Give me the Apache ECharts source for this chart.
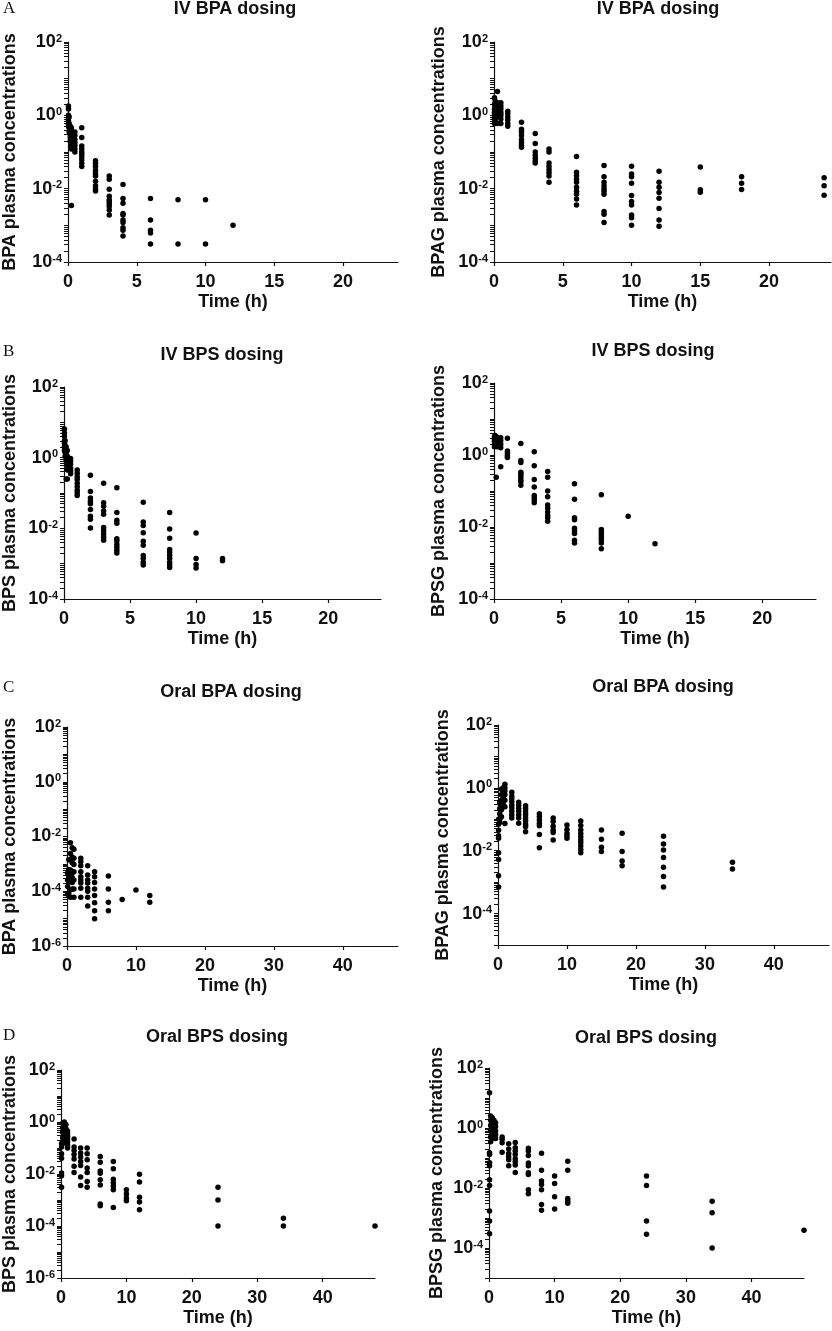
<!DOCTYPE html>
<html lang="en">
<head>
    <meta charset="UTF-8">
    <title>Plasma concentrations</title>
    <script src="https://cdn.jsdelivr.net/npm/echarts@6/dist/echarts.min.js"></script>
    <style>
        html, body { margin: 0; padding: 0; background: #fff; }
        #main { width: 832px; height: 1331px; }
    </style>
</head>
<body>
<div id="main"></div>
<script>
    // A: IV BPA dosing -> BPA
    var ivBpaTimes = [0.033, 0.083, 0.167, 0.25, 0.5, 1, 2, 3, 4, 6, 8, 10, 12];
    var ivBpaBpa = [
        [1.8, 1.5, 1.0, 0.85, 0.7, 0.6, 0.5],
        [0.9, 0.6, 0.5, 0.45, 0.35],
        [0.5, 0.4, 0.3, 0.25, 0.2],
        [0.45, 0.35, 0.25, 0.2, 0.15, 0.12, 0.0035],
        [0.35, 0.28, 0.22, 0.18, 0.15, 0.12, 0.1],
        [0.46, 0.25, 0.145, 0.12, 0.1, 0.088, 0.074, 0.061, 0.049, 0.04],
        [0.058, 0.049, 0.04, 0.032, 0.026, 0.022, 0.016, 0.012, 0.0098, 0.0086],
        [0.022, 0.018, 0.0096, 0.0062, 0.005, 0.0045, 0.0038, 0.0033, 0.0026, 0.0019],
        [0.013, 0.0054, 0.004, 0.0021, 0.0019, 0.0014, 0.0012, 0.00086, 0.00073, 0.00051],
        [0.0054, 0.0014, 0.00073, 0.00062, 0.00031],
        [0.005, 0.00031],
        [0.005, 0.00031],
        [0.001]
    ];
    // A: IV BPA dosing -> BPAG
    var ivBpagTimes = [0.033, 0.083, 0.25, 0.5, 1, 2, 3, 4, 6, 8, 10, 12, 15, 18, 24];
    var ivBpaBpag = [
        [3.0, 2.0, 1.5, 1.2, 1.0, 0.8, 0.6],
        [2.5, 1.8, 1.3, 1.0, 0.7],
        [4.5, 2.2, 1.6, 1.2, 0.9, 0.6],
        [2.2, 1.8, 1.5, 1.2, 1.0, 0.8, 0.6],
        [1.3, 1.1, 0.9, 0.75, 0.6, 0.5],
        [0.65, 0.42, 0.35, 0.28, 0.22, 0.18, 0.15, 0.135],
        [0.32, 0.17, 0.1, 0.08, 0.068, 0.057, 0.05],
        [0.12, 0.1, 0.05, 0.04, 0.033, 0.027, 0.022, 0.015],
        [0.075, 0.028, 0.023, 0.018, 0.015, 0.011, 0.0085, 0.007, 0.0052, 0.0036],
        [0.043, 0.021, 0.015, 0.012, 0.01, 0.0085, 0.007, 0.0024, 0.002, 0.0012],
        [0.041, 0.025, 0.021, 0.014, 0.0065, 0.0045, 0.0036, 0.0019, 0.0016, 0.001],
        [0.03, 0.015, 0.011, 0.0078, 0.0055, 0.0029, 0.0014, 0.00095],
        [0.039, 0.0093, 0.008],
        [0.021, 0.014, 0.0095],
        [0.02, 0.012, 0.0066]
    ];
    // B: IV BPS dosing -> BPS
    var ivBpsTimes = [0.033, 0.083, 0.167, 0.25, 0.5, 1, 2, 3, 4, 6, 8, 10, 12];
    var ivBpsBps = [
        [6.5, 5, 4, 3, 2.5, 2, 1.6],
        [3, 2.2, 1.8, 1.4, 1.1],
        [2, 1.5, 1.2, 1.0, 0.8, 0.25],
        [1.6, 1.1, 0.8, 0.6, 0.45, 0.25],
        [0.95, 0.8, 0.65, 0.5, 0.42, 0.35],
        [0.45, 0.36, 0.29, 0.24, 0.19, 0.15, 0.12, 0.1, 0.085],
        [0.32, 0.11, 0.072, 0.058, 0.05, 0.034, 0.022, 0.018, 0.0103],
        [0.19, 0.053, 0.042, 0.031, 0.025, 0.0105, 0.0085, 0.0069, 0.0056, 0.0046],
        [0.14, 0.028, 0.017, 0.014, 0.0051, 0.0044, 0.0035, 0.0029, 0.0024, 0.002],
        [0.055, 0.015, 0.012, 0.0075, 0.0043, 0.0033, 0.0017, 0.0014, 0.0011, 0.00092],
        [0.028, 0.0095, 0.0052, 0.0025, 0.0021, 0.0017, 0.0014, 0.0011, 0.00092, 0.00078],
        [0.0074, 0.0014, 0.00094, 0.00076],
        [0.0014, 0.0012]
    ];
    // B: IV BPS dosing -> BPSG
    var ivBpsgTimes = [0.033, 0.083, 0.167, 0.25, 0.5, 1, 2, 3, 4, 6, 8, 10, 12];
    var ivBpsBpsg = [
        [3.2, 2.8, 2.4, 2.0, 1.7],
        [3.5, 3.0, 2.5, 2.2, 1.9],
        [3.2, 2.7, 2.2, 1.8, 0.24],
        [3.0, 2.6, 2.1, 1.7],
        [3.0, 2.5, 2.0, 1.6, 0.47],
        [2.9, 1.3, 1.1, 0.95, 0.85],
        [2.1, 0.7, 0.62, 0.33, 0.29, 0.25, 0.21, 0.18, 0.145],
        [1.23, 0.5, 0.21, 0.13, 0.075, 0.065, 0.056, 0.047],
        [0.35, 0.24, 0.1, 0.069, 0.041, 0.033, 0.026, 0.021, 0.018, 0.0145],
        [0.16, 0.059, 0.018, 0.016, 0.0093, 0.0078, 0.0066, 0.0043, 0.0036],
        [0.079, 0.0085, 0.0072, 0.0061, 0.0052, 0.0044, 0.0036, 0.0025],
        [0.02],
        [0.0034]
    ];
    // C: oral BPA dosing -> BPA
    var oralBpaTimes = [0.083, 0.25, 0.5, 0.75, 1, 2, 3, 4, 6, 8, 10, 12];
    var oralBpaBpa = [
        [4.5e-4, 2.6e-4, 1.5e-4, 7.7e-5],
        [1.4e-3, 6.2e-4, 3.4e-4, 2.2e-4, 8e-5],
        [5.9e-3, 2.4e-3, 1.4e-3, 6e-4, 2.6e-4, 1.1e-4, 6e-5],
        [3.9e-3, 1.8e-3, 1.1e-3, 4.6e-4, 3.2e-4, 2.1e-4, 1.2e-4],
        [3.4e-3, 1.6e-3, 9.4e-4, 5.2e-4, 2.6e-4, 1.2e-4, 6e-5],
        [1.6e-3, 1.2e-3, 8.6e-4, 5.2e-4, 3.4e-4, 2.6e-4, 2e-4, 1.3e-4, 6e-5],
        [8.6e-4, 3.9e-4, 2.6e-4, 2e-4, 1.3e-4, 1e-4, 6e-5, 2.9e-5],
        [5.2e-4, 3.4e-4, 2.1e-4, 1.2e-4, 7e-5, 3.8e-5, 1.95e-5, 1e-5],
        [3.6e-4, 1.2e-4, 4e-5, 1.95e-5],
        [5e-5],
        [1.1e-4],
        [7e-5, 4e-5]
    ];
    // C: oral BPA dosing -> BPAG
    var oralBpagTimes = [0.083, 0.25, 0.5, 0.75, 1, 2, 3, 4, 6, 8, 10, 12, 15, 18, 24, 34];
    var oralBpaBpag = [
        [0.1, 0.07, 0.045, 0.03, 0.025, 0.0086, 0.0053, 0.0016, 0.0007],
        [0.35, 0.22, 0.15, 0.1, 0.08],
        [0.9, 0.6, 0.4, 0.3, 0.2, 0.12],
        [1.0, 0.75, 0.5, 0.35, 0.25],
        [1.3, 1.0, 0.8, 0.6, 0.4, 0.25, 0.074],
        [0.72, 0.55, 0.45, 0.36, 0.28, 0.23, 0.18, 0.14, 0.11],
        [0.35, 0.28, 0.22, 0.18, 0.14, 0.11, 0.075],
        [0.27, 0.22, 0.17, 0.14, 0.11, 0.09, 0.07, 0.058, 0.04],
        [0.15, 0.12, 0.095, 0.075, 0.062, 0.033, 0.0125],
        [0.11, 0.085, 0.06, 0.046, 0.038, 0.022],
        [0.066, 0.047, 0.036, 0.03, 0.025],
        [0.088, 0.063, 0.046, 0.035, 0.028, 0.022, 0.018, 0.014, 0.011, 0.0086],
        [0.046, 0.023, 0.0128, 0.0095],
        [0.036, 0.0095, 0.0047, 0.0033],
        [0.029, 0.0163, 0.0106, 0.0061, 0.003, 0.0015, 0.0007],
        [0.0043, 0.0026]
    ];
    // D: oral BPS dosing -> BPS
    var oralBpsTimes = [0.083, 0.25, 0.5, 0.75, 1, 2, 3, 4, 6, 8, 10, 12, 24, 34, 48];
    var oralBpsBps = [
        [0.15, 0.11, 0.06, 0.04, 0.011, 0.0085, 0.0031],
        [0.9, 0.6, 0.4, 0.25, 0.15],
        [1.0, 0.7, 0.5, 0.35, 0.25, 0.18],
        [0.8, 0.55, 0.4, 0.3, 0.2],
        [0.45, 0.35, 0.28, 0.22, 0.17, 0.13, 0.1],
        [0.22, 0.11, 0.08, 0.056, 0.038, 0.02, 0.0115],
        [0.1, 0.064, 0.045, 0.03, 0.021, 0.0076, 0.0036],
        [0.1, 0.06, 0.035, 0.017, 0.0115, 0.0052, 0.0031],
        [0.047, 0.028, 0.013, 0.0107, 0.006, 0.0038, 0.0007, 0.0006],
        [0.03, 0.016, 0.0063, 0.0045, 0.0034, 0.0025, 0.00051],
        [0.0025, 0.0017, 0.0012, 0.00093],
        [0.0098, 0.0049, 0.00127, 0.00083, 0.00042],
        [0.0031, 0.001, 0.0001],
        [0.0002, 0.0001],
        [0.0001]
    ];
    // D: oral BPS dosing -> BPSG
    var oralBpsgTimes = [0.083, 0.25, 0.5, 0.75, 1, 2, 3, 4, 6, 8, 10, 12, 24, 34, 48];
    var oralBpsBpsg = [
        [15, 0.15, 0.13, 0.07, 0.055, 0.019, 0.012, 0.0017, 0.0008, 0.0003],
        [2.5, 1.8, 1.2, 0.8, 0.5, 0.35],
        [2.2, 1.6, 1.1, 0.7, 0.45],
        [1.8, 1.3, 0.9, 0.6],
        [1.5, 1.1, 0.8, 0.6, 0.45],
        [0.5, 0.42, 0.32, 0.155],
        [0.3, 0.2, 0.14, 0.11, 0.088, 0.055],
        [0.33, 0.22, 0.17, 0.13, 0.095, 0.075, 0.058, 0.033],
        [0.21, 0.17, 0.12, 0.068, 0.055, 0.032, 0.028, 0.0088, 0.0064],
        [0.145, 0.039, 0.017, 0.013, 0.0088, 0.0028, 0.0018],
        [0.025, 0.014, 0.0051, 0.002],
        [0.078, 0.039, 0.0045, 0.0037, 0.0031],
        [0.025, 0.012, 0.0008, 0.00029],
        [0.0036, 0.0015, 0.0001],
        [0.00039]
    ];

    var titles = ['IV BPA dosing', 'IV BPA dosing', 'IV BPS dosing', 'IV BPS dosing',
                  'Oral BPA dosing', 'Oral BPA dosing', 'Oral BPS dosing', 'Oral BPS dosing'];
    var yNames = ['BPA plasma concentrations', 'BPAG plasma concentrations',
                  'BPS plasma concentrations', 'BPSG plasma concentrations',
                  'BPA plasma concentrations', 'BPAG plasma concentrations',
                  'BPS plasma concentrations', 'BPSG plasma concentrations'];

    var panels = [
        {t: ivBpaTimes,    c: ivBpaBpa,    left: 67,  top: 42,   w: 331, h: 220, xMax: 24,   xStep: 5,  yMin: 1e-4},
        {t: ivBpagTimes,   c: ivBpaBpag,   left: 494, top: 42,   w: 337, h: 220, xMax: 24.5, xStep: 5,  yMin: 1e-4},
        {t: ivBpsTimes,    c: ivBpsBps,    left: 63,  top: 387,  w: 318, h: 212, xMax: 24,   xStep: 5,  yMin: 1e-4},
        {t: ivBpsgTimes,   c: ivBpsBpsg,   left: 494, top: 383,  w: 322, h: 216, xMax: 24,   xStep: 5,  yMin: 1e-4},
        {t: oralBpaTimes,  c: oralBpaBpa,  left: 67,  top: 727,  w: 331, h: 219, xMax: 48,   xStep: 10, yMin: 1e-6},
        {t: oralBpagTimes, c: oralBpaBpag, left: 498, top: 725,  w: 331, h: 220, xMax: 48,   xStep: 10, yMin: 1e-5},
        {t: oralBpsTimes,  c: oralBpsBps,  left: 60,  top: 1070, w: 315, h: 208, xMax: 48,   xStep: 10, yMin: 1e-6},
        {t: oralBpsgTimes, c: oralBpsBpsg, left: 489, top: 1068, w: 315, h: 210, xMax: 48,   xStep: 10, yMin: 1e-5}
    ];
    var yNameGap = [49, 46, 45, 46, 48, 46, 42, 43];
    var titlePos = [[235, 9], [658, 9], [222, 355], [653, 351], [231, 692], [663, 687], [217, 1037], [646, 1038]];
    var letters = [['A', 9], ['B', 352], ['C', 688], ['D', 1036]];

    var ink = '#111';
    var font = '"Liberation Sans", Arial, sans-serif';

    function logTicks(min, max) {
        var out = [];
        for (var e = Math.round(Math.log10(min)); e < 2; e++) {
            for (var k = 1; k < 10; k++) out.push(+(k * Math.pow(10, e)).toPrecision(3));
        }
        out.push(100);
        return out.filter(function (v) { return v >= min * 0.999 && v <= max * 1.001; });
    }
    function decadeLabels(min) {
        var out = [];
        for (var e = 2; Math.pow(10, e) >= min * 0.999; e -= 2) out.push(Math.pow(10, e));
        return out;
    }
    function linTicks(max, step) {
        var out = [];
        for (var v = 0; v <= max; v += step) out.push(v);
        return out;
    }

    var grid = [], xAxis = [], yAxis = [], series = [], graphic = [];

    panels.forEach(function (p, i) {
        grid.push({left: p.left, top: p.top, width: p.w, height: p.h, containLabel: false});
        xAxis.push({
            type: 'value', gridIndex: i, min: 0, max: p.xMax,
            name: 'Time (h)', nameLocation: 'middle', nameGap: 31,
            nameTextStyle: {fontFamily: font, fontWeight: 'bold', fontSize: 18, color: ink},
            axisLine: {show: true, onZero: false, lineStyle: {color: ink, width: 1.2}},
            axisTick: {show: true, length: 4, customValues: linTicks(p.xMax, p.xStep), lineStyle: {color: ink, width: 1.2}},
            axisLabel: {customValues: linTicks(p.xMax, p.xStep), margin: 11,
                fontFamily: font, fontWeight: 'bold', fontSize: 18, color: ink},
            splitLine: {show: false}
        });
        yAxis.push({
            type: 'log', logBase: 10, gridIndex: i, min: p.yMin, max: 100,
            name: yNames[i], nameLocation: 'middle', nameGap: yNameGap[i],
            nameTextStyle: {fontFamily: font, fontWeight: 'bold', fontSize: 18, color: ink},
            axisLine: {show: true, onZero: false, lineStyle: {color: ink, width: 1.2}},
            axisTick: {show: true, length: 4, customValues: logTicks(p.yMin, 100), lineStyle: {color: ink, width: 1}},
            axisLabel: {
                customValues: decadeLabels(p.yMin), margin: 6,
                formatter: function (v) {
                    return '{b|10}{s|' + Math.round(Math.log10(v)) + '}';
                },
                rich: {
                    b: {fontFamily: font, fontWeight: 'bold', fontSize: 18, color: ink, lineHeight: 18},
                    s: {fontFamily: font, fontWeight: 'bold', fontSize: 11, color: ink, verticalAlign: 'top', lineHeight: 12}
                }
            },
            splitLine: {show: false}
        });
        var pts = [];
        p.t.forEach(function (t, j) {
            p.c[j].forEach(function (v) { pts.push([t, v]); });
        });
        series.push({
            type: 'scatter', xAxisIndex: i, yAxisIndex: i, data: pts,
            symbol: 'circle', symbolSize: 5.5, silent: true,
            itemStyle: {color: '#000', opacity: 1}
        });
        graphic.push({
            type: 'text', x: titlePos[i][0], y: titlePos[i][1],
            style: {text: titles[i], fill: ink, font: 'bold 18px ' + font,
                textAlign: 'center', textVerticalAlign: 'middle'}
        });
    });

    letters.forEach(function (l) {
        graphic.push({
            type: 'text', x: 3, y: l[1],
            style: {text: l[0], fill: ink, font: '17px "Liberation Serif", "Times New Roman", serif',
                textAlign: 'left', textVerticalAlign: 'middle'}
        });
    });

    var chart = echarts.init(document.getElementById('main'), null, {renderer: 'canvas'});
    chart.setOption({
        animation: false,
        backgroundColor: '#fff',
        grid: grid,
        xAxis: xAxis,
        yAxis: yAxis,
        series: series,
        graphic: graphic
    });
</script>
</body>
</html>
